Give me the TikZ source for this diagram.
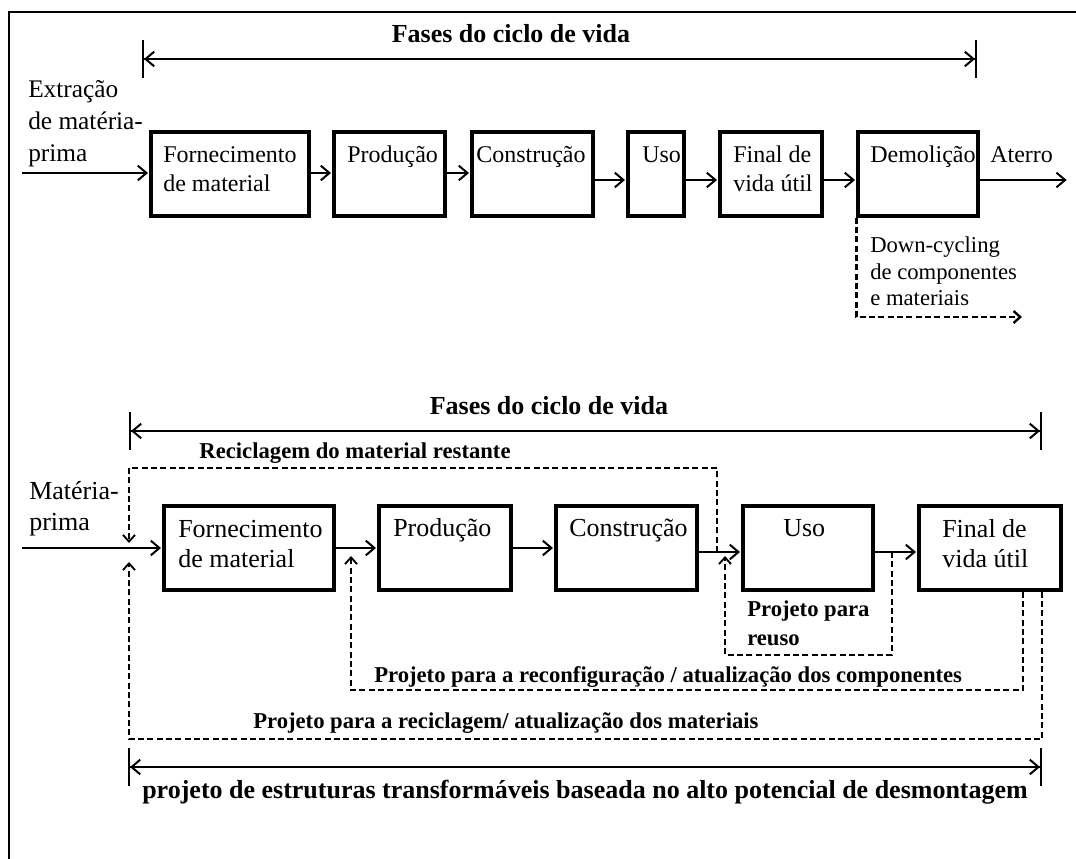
\documentclass[tikz,border=0pt]{standalone}
\usepackage{fontspec}
\setmainfont{Liberation Serif}
\usetikzlibrary{arrows.meta,fit,positioning}
\tikzset{
  phase/.style={draw, line width=2.5pt, inner sep=0pt},
  flow/.style={line width=1.5pt, shorten >=1pt, -{Straight Barb[length=6.5pt,width=11pt]}},
  backflow/.style={line width=1.4pt, dash pattern=on 4.5pt off 2.5pt, -{Straight Barb[length=5pt,width=9pt]}},
  lifespan/.style={line width=1.5pt, arrows={Bar[width=28.5pt]Straight Barb[length=6.5pt,width=11pt]-Straight Barb[length=6.5pt,width=11pt]Bar[width=28.5pt]}},
  txt/.style={inner sep=0pt, anchor=base west, align=left, font=\fontsize{18}{21.75}\selectfont},
  txtb/.style={txt, font=\fontsize{19.5}{23.25}\selectfont},
  heading/.style={inner sep=0pt, anchor=base, font=\bfseries\fontsize{19.5}{23}\selectfont},
  note/.style={txt, font=\bfseries\fontsize{17}{21}\selectfont}
}
\begin{document}
\begin{tikzpicture}[x=0.75pt,y=-0.75pt]
  \useasboundingbox (0,0) rectangle (1076,859);
  \draw[line width=1.5pt] (1076,12) -- (9,12) -- (9,859);

  % upper scheme (multi-line texts sit on their last baseline)
  \node[heading] (titleT) at (511,43) {Fases do ciclo de vida};
  \coordinate (spanTl) at (142,59);
  \coordinate (spanTr) at (977,59);
  \draw[lifespan] (spanTl) -- (spanTr);

  \node[txt, font=\fontsize{19}{24}\selectfont] (extr) at (28,162) {Extração\\de matéria-\\prima};
  \node[phase, fit={(151,132) (309,216)}] (fornT) {};
  \node[phase, fit={(334,132) (445,216)}] (prodT) {};
  \node[phase, fit={(472,132) (593,216)}] (constT) {};
  \node[phase, fit={(628,132) (684,216)}] (usoT) {};
  \node[phase, fit={(720,132) (822,216)}] (finT) {};
  \node[phase, fit={(858,132) (978,216)}] (demT) {};
  \node[txt] (fornTt) at (163,192) {Fornecimento\\de material};
  \node[txt] (prodTt) at (347,163) {Produção};
  \node[txt] (constTt) at (476,163) {Construção};
  \node[txt] (usoTt) at (642,163) {Uso};
  \node[txt] (finTt) at (733,192) {Final de\\vida útil};
  \node[txt] (demTt) at (870,163) {Demolição};
  \node[txt] (aterro) at (990,163) {Aterro};

  \coordinate (srcT) at (22,173);
  \coordinate (rowT) at (0,180);
  \coordinate (sinkT) at (1068,180);
  \draw[flow] (srcT) -- (srcT -| fornT.west);
  \draw[flow] (fornT.east |- srcT) -- (prodT.west |- srcT);
  \draw[flow] (prodT.east |- srcT) -- (constT.west |- srcT);
  \draw[flow] (constT.east |- rowT) -- (usoT.west |- rowT);
  \draw[flow] (usoT.east |- rowT) -- (finT.west |- rowT);
  \draw[flow] (finT.east |- rowT) -- (demT.west |- rowT);
  \draw[flow] (demT.east |- rowT) -- (sinkT);

  \coordinate (downT) at (1022,317);
  \draw[backflow, line width=1.8pt] (demT.south west) |- (downT);
  \node[txt, font=\fontsize{17}{20}\selectfont] (downTt) at (870,306) {Down-cycling\\de componentes\\e materiais};

  % lower scheme
  \node[heading] (titleB) at (549,415) {Fases do ciclo de vida};
  \coordinate (spanBl) at (129,431);
  \coordinate (spanBr) at (1042,431);
  \draw[lifespan] (spanBl) -- (spanBr);
  \node[note, anchor=base] (recTt) at (355,459) {Reciclagem do material restante};

  \node[txtb] (mat) at (29,531) {Matéria-\\prima};
  \node[phase, fit={(164,506) (334,590)}] (fornB) {};
  \node[phase, fit={(379,506) (511,590)}] (prodB) {};
  \node[phase, fit={(556,506) (697,590)}] (constB) {};
  \node[phase, fit={(743,506) (873,590)}] (usoB) {};
  \node[phase, fit={(919,506) (1061,590)}] (finB) {};
  \node[txtb] (fornBt) at (178,568) {Fornecimento\\de material};
  \node[txtb] (prodBt) at (393,537) {Produção};
  \node[txtb] (constBt) at (569,537) {Construção};
  \node[txtb] (usoBt) at (783,537) {Uso};
  \node[txtb] (finBt) at (942,568) {Final de\\vida útil};

  \coordinate (srcB) at (22,548);
  \coordinate (rowB) at (0,552);
  \draw[flow] (srcB) -- (srcB -| fornB.west);
  \draw[flow] (fornB.east |- srcB) -- (prodB.west |- srcB);
  \draw[flow] (prodB.east |- srcB) -- (constB.west |- srcB);
  \draw[flow] (constB.east |- rowB) -- (usoB.west |- rowB);
  \draw[flow] (usoB.east |- rowB) -- (finB.west |- rowB);

  \coordinate (recA) at (717,552);
  \coordinate (recTop) at (0,468);
  \coordinate (recB) at (129,543);
  \draw[backflow] (recA) -- (recA |- recTop) -| (recB);

  \coordinate (reuA) at (892,552);
  \coordinate (reuBot) at (0,655);
  \coordinate (reuB) at (725,556);
  \draw[backflow] (reuA) -- (reuA |- reuBot) -| (reuB);
  \node[note] (reuTt) at (747,645) {Projeto para\\reuso};

  \coordinate (cfgA) at (1023,0);
  \coordinate (cfgBot) at (0,690);
  \coordinate (cfgB) at (351,556);
  \draw[backflow] (finB.south -| cfgA) -- (cfgA |- cfgBot) -| (cfgB);
  \node[note] (cfgTt) at (374,682) {Projeto para a reconfiguração / atualização dos componentes};

  \coordinate (outA) at (1042,0);
  \coordinate (outBot) at (0,739);
  \coordinate (outB) at (129,562);
  \draw[backflow] (finB.south -| outA) -- (outA |- outBot) -| (outB);
  \node[note] (outTt) at (253,728) {Projeto para a reciclagem/ atualização dos materiais};

  \coordinate (spanCl) at (128,767);
  \coordinate (spanCr) at (1042,767);
  \draw[lifespan] (spanCl) -- (spanCr);
  \node[txt, font=\bfseries\fontsize{19.5}{23}\selectfont] (goal) at (142,798) {projeto de estruturas transformáveis baseada no alto potencial de desmontagem};
\end{tikzpicture}
\end{document}
